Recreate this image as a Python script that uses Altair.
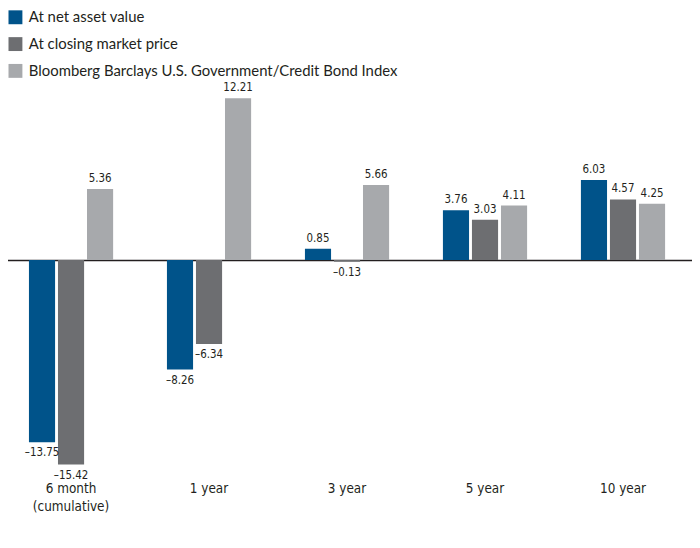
import altair as alt
import pandas as pd

categories = ["6 month (cumulative)", "1 year", "3 year", "5 year", "10 year"]
series = ["At net asset value", "At closing market price",
          "Bloomberg Barclays U.S. Government/Credit Bond Index"]
nav = [-13.75, -8.26, 0.85, 3.76, 6.03]
market = [-15.42, -6.34, -0.13, 3.03, 4.57]
index = [5.36, 12.21, 5.66, 4.11, 4.25]
colors = ["#00538a", "#6d6e71", "#a7a9ac"]

rows = []
for vals, s in zip([nav, market, index], series):
    for c, v in zip(categories, vals):
        rows.append({"period": c, "series": s, "value": v,
                     "label": f"{v:.2f}".replace("-", "\u2013")})
df = pd.DataFrame(rows)

LABEL_FONT = "DejaVu Sans Condensed, Liberation Sans Narrow, Roboto, sans-serif"
YDOM = [-15.88, 18.876]
x = alt.X("period:N", sort=categories,
          scale=alt.Scale(paddingInner=0.39, paddingOuter=0.195),
          axis=alt.Axis(title=None, orient="bottom", domain=False, ticks=False,
                        labelAngle=0, labelPadding=11, labelFontSize=13.5,
                        labelFont=LABEL_FONT, labelColor="#231f20",
                        labelLineHeight=18,
                        labelExpr="datum.label == '6 month (cumulative)' ? ['6 month', '(cumulative)'] : datum.label"))
xo = alt.XOffset("series:N", sort=series, scale=alt.Scale(paddingInner=0.1))

base = alt.Chart(df).encode(x=x, xOffset=xo)

bars = base.mark_bar().encode(
    y=alt.Y("value:Q", scale=alt.Scale(domain=YDOM, nice=False, zero=False),
            axis=alt.Axis(title=None, values=[0], grid=True, gridColor="#231f20",
                          gridWidth=1.5, gridOpacity=1, labels=False, ticks=False,
                          domain=False)),
    color=alt.Color("series:N", sort=series,
                    scale=alt.Scale(domain=series, range=colors),
                    legend=alt.Legend(title=None, orient="none", legendX=6, legendY=0,
                                      symbolType="square", symbolSize=196,
                                      symbolStrokeWidth=0, labelFontSize=15,
                                      labelFont="Lato", labelColor="#231f20",
                                      rowPadding=11, labelOffset=6,
                                      labelLimit=500))
)

texts = base.mark_text(baseline="middle", fontSize=11.5, font=LABEL_FONT,
                       color="#231f20").transform_calculate(
    ypos="datum.value >= 0 ? datum.value + 0.75 : datum.value - 0.85"
).encode(y=alt.Y("ypos:Q"), text="label:N")

chart = alt.layer(bars, texts).properties(
    width=695, height=464
).configure(padding={"left": -6, "top": 0, "right": 0, "bottom": 0}).configure_view(stroke=None)

chart.save("out.html", embed_options={"renderer": "svg", "actions": False})
